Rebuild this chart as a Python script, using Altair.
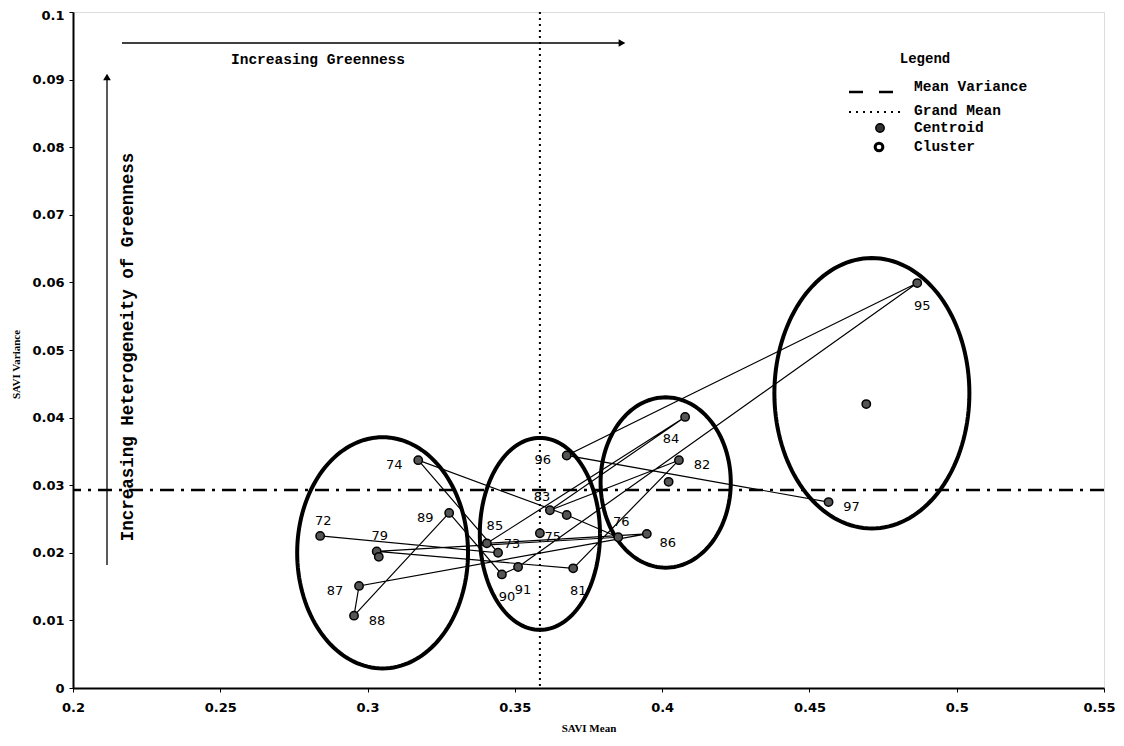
import altair as alt
import pandas as pd
import numpy as np

# ---- data ----
years = ["72", "73", "74", "75", "76", "79", "81", "82", "83", "84",
         "85", "86", "87", "88", "89", "90", "91", "95", "96", "97"]
savi_mean = [0.2839, 0.3443, 0.3172, 0.3676, 0.3851, 0.3031, 0.3698, 0.4057, 0.3619, 0.4078,
             0.3405, 0.3948, 0.2971, 0.2954, 0.3277, 0.3456, 0.3511, 0.4866, 0.3676, 0.4565]
savi_var = [0.0225, 0.0200, 0.0337, 0.0256, 0.0223, 0.0202, 0.0177, 0.0337, 0.0263, 0.0401,
            0.0214, 0.0228, 0.0151, 0.0107, 0.0259, 0.0168, 0.0179, 0.0599, 0.0344, 0.0275]
label_side = ["N", "ENE", "W", "SW", "N", "N", "S", "E", "NW", "SW",
              "NE", "SE", "W", "E", "W", "S", "S", "S", "W", "E"]

centroid_mean = [0.3038, 0.3585, 0.4022, 0.4693]
centroid_var = [0.0194, 0.0229, 0.0305, 0.0420]

ellipse_cx = [0.3051, 0.3585, 0.4012, 0.4712]
ellipse_cy = [0.0200, 0.0228, 0.0304, 0.0436]
ellipse_rx = [0.0290, 0.0204, 0.0221, 0.0331]
ellipse_ry = [0.0171, 0.0142, 0.0126, 0.0200]

mean_variance = 0.0293
grand_mean = 0.3585

x_ticks = [0.2, 0.25, 0.3, 0.35, 0.4, 0.45, 0.5, 0.55]
y_ticks = [0, 0.01, 0.02, 0.03, 0.04, 0.05, 0.06, 0.07, 0.08, 0.09, 0.1]

# ---- tables ----
pts = pd.DataFrame({"year": years, "yr": [int(y) for y in years],
                    "x": savi_mean, "y": savi_var, "side": label_side})
cent = pd.DataFrame({"x": centroid_mean, "y": centroid_var})

rows = []
t = np.linspace(0, 2 * np.pi, 145)
for i in range(len(ellipse_cx)):
    for k, tt in enumerate(t):
        rows.append({"cluster": i, "k": k,
                     "x": ellipse_cx[i] + ellipse_rx[i] * np.cos(tt),
                     "y": ellipse_cy[i] + ellipse_ry[i] * np.sin(tt)})
ell = pd.DataFrame(rows)

MONO = "Liberation Mono"
TICKF = "DejaVu Sans"
xs = alt.Scale(domain=[0.2, 0.55], nice=False, zero=False)
ys = alt.Scale(domain=[0, 0.1], nice=False)

X = alt.X("x:Q", scale=xs, axis=alt.Axis(
    title="SAVI Mean", values=x_ticks, format=".2~f", grid=False, labelFlush=False,
    labelOffset=alt.ExprRef(expr="datum.value > 0.549 ? -5 : 0"),
    labelFont=TICKF, labelFontWeight="bold", labelFontSize=13, labelPadding=9,
    titleFont="Liberation Serif", titleFontWeight="bold", titleFontSize=11, titlePadding=8,
    domainColor="black", domainWidth=2, tickColor="black", tickSize=4, labelColor="black",
    titleColor="black"))
Y = alt.Y("y:Q", scale=ys, axis=alt.Axis(
    title="SAVI Variance", values=y_ticks, format=".2~f", grid=False, labelFlush=False,
    labelOffset=alt.ExprRef(expr="datum.value > 0.099 ? 3 : 0"),
    labelFont=TICKF, labelFontWeight="bold", labelFontSize=13, labelPadding=5,
    titleFont="Liberation Serif", titleFontWeight="bold", titleFontSize=11, titlePadding=10,
    titleY=352,
    domainColor="black", domainWidth=2, tickColor="black", tickSize=4, labelColor="black",
    titleColor="black"))

ellipses = alt.Chart(ell).mark_line(color="black", strokeWidth=4).encode(
    x=X, y=Y, detail="cluster:N", order="k:Q")

path = alt.Chart(pts).mark_line(color="black", strokeWidth=1.2).encode(
    x="x:Q", y="y:Q", order="yr:Q")

hline = alt.Chart(pd.DataFrame({"y": [mean_variance]})).mark_rule(
    color="black", strokeWidth=2.5, strokeDash=[14, 7, 3, 7]).encode(y="y:Q")
vline = alt.Chart(pd.DataFrame({"x": [grand_mean]})).mark_rule(
    color="black", strokeWidth=2, strokeDash=[2, 4]).encode(x="x:Q")

points = alt.Chart(pts).mark_circle(size=70, fill="#555", stroke="black",
                                    strokeWidth=1.5, opacity=1).encode(x="x:Q", y="y:Q")
cpoints = alt.Chart(cent).mark_circle(size=70, fill="#555", stroke="black",
                                      strokeWidth=1.5, opacity=1).encode(x="x:Q", y="y:Q")

offsets = {"N": (3, -15), "NE": (8, -17), "ENE": (14, -9), "E": (23, 5), "SE": (21, 9),
           "S": (5, 23), "SW": (-14, 22), "W": (-24, 5), "NW": (-8, -13)}
label_layers = []
for side, (dx, dy) in offsets.items():
    label_layers.append(
        alt.Chart(pts).transform_filter(alt.datum.side == side).mark_text(
            dx=dx, dy=dy, font="DejaVu Sans", fontSize=13, color="black"
        ).encode(x="x:Q", y="y:Q", text="year:N"))

one = pd.DataFrame({"a": [0]})
ann = []
# horizontal arrow
ann.append(alt.Chart(one).mark_rule(color="black", strokeWidth=1.3).encode(
    x=alt.value(49), x2=alt.value(546), y=alt.value(31)))
ann.append(alt.Chart(one).mark_point(shape="triangle-right", filled=True, color="black",
                                     size=60, opacity=1).encode(x=alt.value(549), y=alt.value(31)))
ann.append(alt.Chart(one).mark_text(text="Increasing Greenness", font=MONO, fontWeight="bold",
                                    fontSize=14.5, color="black").encode(
    x=alt.value(245), y=alt.value(48)))
# vertical arrow
ann.append(alt.Chart(one).mark_rule(color="black", strokeWidth=1.3).encode(
    x=alt.value(34), y=alt.value(553), y2=alt.value(68)))
ann.append(alt.Chart(one).mark_point(shape="triangle-up", filled=True, color="black",
                                     size=60, opacity=1).encode(x=alt.value(34), y=alt.value(65)))
ann.append(alt.Chart(one).mark_text(text="Increasing Heterogeneity of Greenness", font=MONO,
                                    fontWeight="bold", fontSize=17.5, color="black", angle=270).encode(
    x=alt.value(55), y=alt.value(335)))
# legend
ann.append(alt.Chart(one).mark_text(text="Legend", font=MONO, fontWeight="bold", fontSize=14,
                                    color="black").encode(x=alt.value(852), y=alt.value(47)))
ann.append(alt.Chart(one).mark_rule(color="black", strokeWidth=2.5, strokeDash=[14, 16]).encode(
    x=alt.value(776), x2=alt.value(821), y=alt.value(80)))
ann.append(alt.Chart(one).mark_rule(color="black", strokeWidth=2, strokeDash=[2, 5]).encode(
    x=alt.value(776), x2=alt.value(830), y=alt.value(100)))
ann.append(alt.Chart(one).mark_circle(size=70, fill="#333", stroke="black", strokeWidth=1.5,
                                      opacity=1).encode(x=alt.value(807), y=alt.value(116)))
ann.append(alt.Chart(one).mark_point(size=60, shape="circle", filled=False, color="black",
                                     strokeWidth=3, opacity=1).encode(x=alt.value(806), y=alt.value(135)))
for txt, yy in [("Mean Variance", 75), ("Grand Mean", 99), ("Centroid", 116), ("Cluster", 135)]:
    ann.append(alt.Chart(one).mark_text(text=txt, font=MONO, fontWeight="bold", fontSize=14.5,
                                        color="black", align="left").encode(
        x=alt.value(841), y=alt.value(yy)))

chart = alt.layer(ellipses, path, hline, vline, points, cpoints, *label_layers, *ann).properties(
    width=1031, height=676,
    autosize=alt.AutoSizeParams(type="none"),
    padding={"left": 65, "top": 4, "right": 12, "bottom": 50},
).configure_view(stroke="#bbbbbb", strokeWidth=1).configure(background="white")

chart.save("out.html", embed_options={"renderer": "svg", "actions": False})
